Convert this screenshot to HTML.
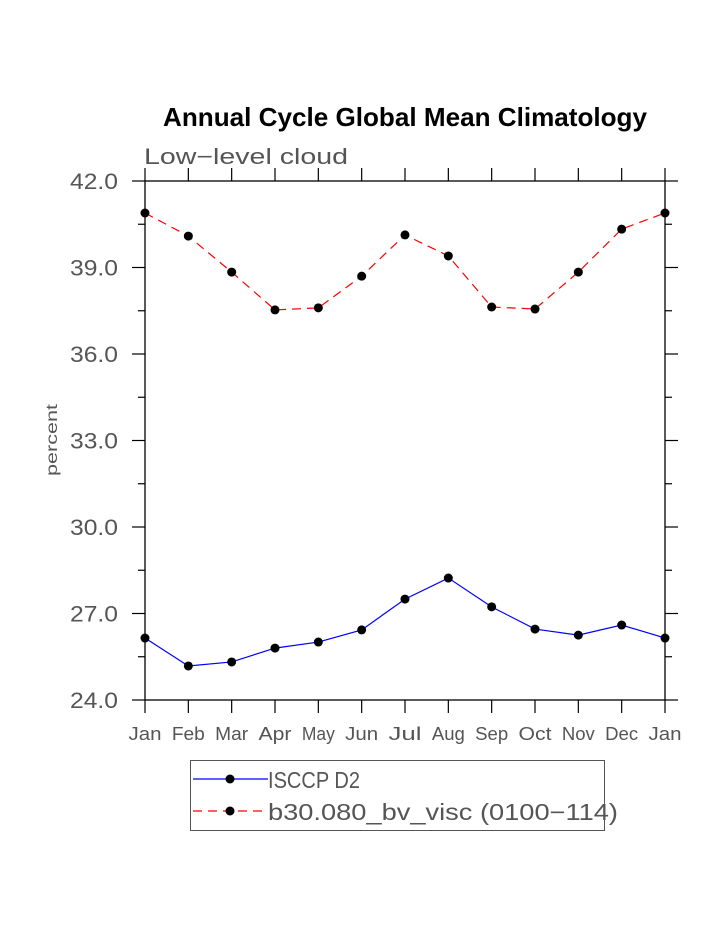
<!DOCTYPE html>
<html><head><meta charset="utf-8"><style>
body{margin:0;background:#fff}
svg text{font-family:"Liberation Sans",sans-serif}
</style></head><body>
<svg id="chart" width="723" height="935" viewBox="0 0 723 935" xmlns="http://www.w3.org/2000/svg">
<text x="163" y="126" font-size="26" font-weight="bold" fill="#000" textLength="484" lengthAdjust="spacingAndGlyphs">Annual Cycle Global Mean Climatology</text>
<text x="144" y="164" font-size="22" fill="#555" textLength="204" lengthAdjust="spacingAndGlyphs">Low−level cloud</text>
<text transform="translate(57,440) rotate(-90)" text-anchor="middle" font-size="16" fill="#555" textLength="72" lengthAdjust="spacingAndGlyphs">percent</text>
<g id="axes"></g>
<g id="series"></g>
<g>
<rect x="190.5" y="760.5" width="414" height="70" fill="none" stroke="#555" stroke-width="1"/>
<g>
<line x1="193" y1="779" x2="268" y2="779" stroke="#00f" stroke-width="1.2"/>
<circle cx="230" cy="779" r="4.5" fill="#000"/>
<text x="268" y="788" font-size="23" fill="#555" textLength="92" lengthAdjust="spacingAndGlyphs">ISCCP D2</text>
</g>
<g>
<line x1="193" y1="811" x2="268" y2="811" stroke="#f00" stroke-width="1.2" stroke-dasharray="9,6"/>
<circle cx="230" cy="811" r="4.5" fill="#000"/>
<text x="268" y="820" font-size="23" fill="#555" textLength="350" lengthAdjust="spacingAndGlyphs">b30.080_bv_visc (0100−114)</text>
</g>
</g>
</svg>
<script>
const months = ["Jan","Feb","Mar","Apr","May","Jun","Jul","Aug","Sep","Oct","Nov","Dec","Jan"];
const isccpValues = [26.15,25.18,25.32,25.80,26.01,26.43,27.50,28.23,27.23,26.46,26.25,26.60,26.15];
const modelValues = [40.89,40.09,38.84,37.53,37.60,38.70,40.13,39.40,37.63,37.56,38.84,40.33,40.89];
const yTickValues = [24,27,30,33,36,39,42];
const yTickLabels = ["24.0","27.0","30.0","33.0","36.0","39.0","42.0"];

const NS="http://www.w3.org/2000/svg";
const X0=145,X1=665,Y0=700,Y1=181,YMIN=24,YMAX=42;
const xs=i=>X0+(X1-X0)*i/(months.length-1);
const ys=v=>Y0-(v-YMIN)/(YMAX-YMIN)*(Y0-Y1);
function mk(tag,attrs,parent){const e=document.createElementNS(NS,tag);for(const k in attrs)e.setAttribute(k,attrs[k]);parent.appendChild(e);return e;}
const ax=document.getElementById('axes');
const frame=mk('rect',{x:X0,y:Y1,width:X1-X0,height:Y0-Y1,fill:'none',stroke:'#000','stroke-width':1.3},ax);


months.forEach((m,i)=>{
  const x=xs(i);
  mk('line',{x1:x,y1:Y0,x2:x,y2:Y0+13,stroke:'#000','stroke-width':1.2},ax);
  mk('line',{x1:x,y1:Y1,x2:x,y2:Y1-13,stroke:'#000','stroke-width':1.2},ax);
  const t=mk('text',{x:x,y:Y0+40,'text-anchor':'middle','font-size':18,fill:'#555',textLength:33,lengthAdjust:'spacingAndGlyphs'},ax);
  t.textContent=m;
  
  
});
for(let v=YMIN;v<=YMAX+0.01;v+=1.5){
  const y=ys(v);const major=Math.abs(v%3)<0.01;const L=major?13:7;
  mk('line',{x1:X0-L,y1:y,x2:X0,y2:y,stroke:'#000','stroke-width':1.2},ax);
  mk('line',{x1:X1,y1:y,x2:X1+L,y2:y,stroke:'#000','stroke-width':1.2},ax);
}
yTickValues.forEach((v,i)=>{
  const t=mk('text',{x:70,y:ys(v)+8,'font-size':22,fill:'#555',textLength:48,lengthAdjust:'spacingAndGlyphs'},ax);
  t.textContent=yTickLabels[i];
  
  
});
const sg=document.getElementById('series');
function series(vals,color,dash,name){
  const g=mk('g',{},sg);
  
  
  const a={points:vals.map((v,i)=>xs(i)+','+ys(v)).join(' '),fill:'none',stroke:color,'stroke-width':1.2};
  if(dash)a['stroke-dasharray']=dash;
  mk('polyline',a,g);
  vals.forEach((v,i)=>{
    const c=mk('circle',{cx:xs(i),cy:ys(v),r:4.5,fill:'#000'},g);
    
    
  });
}
series(isccpValues,'#00f',null,'series-isccp-d2');
series(modelValues,'#f00','9,6','series-b30-080');
</script>
</body></html>
